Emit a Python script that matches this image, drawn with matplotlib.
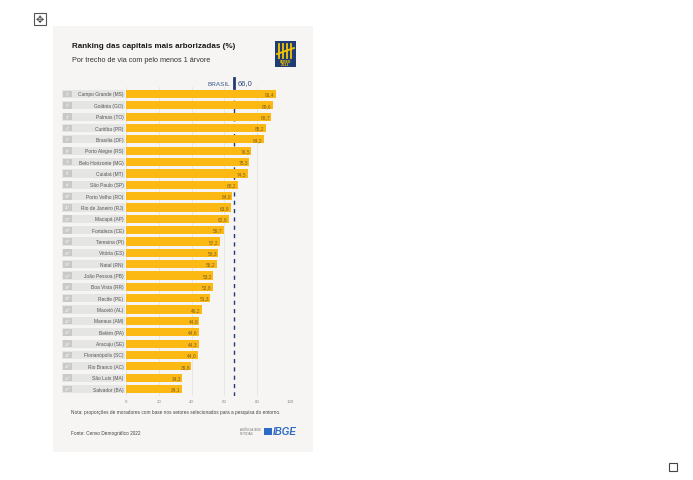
import matplotlib
matplotlib.use("Agg")
import matplotlib.pyplot as plt
from matplotlib.patches import Rectangle

cities = ["Campo Grande (MS)", "Goiânia (GO)", "Palmas (TO)", "Curitiba (PR)", "Brasília (DF)",
          "Porto Alegre (RS)", "Belo Horizonte (MG)", "Cuiabá (MT)", "São Paulo (SP)",
          "Porto Velho (RO)", "Rio de Janeiro (RJ)", "Macapá (AP)", "Fortaleza (CE)",
          "Teresina (PI)", "Vitória (ES)", "Natal (RN)", "João Pessoa (PB)", "Boa Vista (RR)",
          "Recife (PE)", "Maceió (AL)", "Manaus (AM)", "Belém (PA)", "Aracaju (SE)",
          "Florianópolis (SC)", "Rio Branco (AC)", "São Luís (MA)", "Salvador (BA)"]
values = [91.4, 89.6, 88.7, 85.2, 84.2, 76.5, 75.3, 74.5, 68.2, 64.9, 63.9, 62.8, 59.7,
          57.2, 56.3, 55.2, 53.2, 52.8, 51.3, 46.2, 44.8, 44.6, 44.3, 44.0, 39.8, 34.3, 34.1]
brasil = 66.0
xticks = [0, 20, 40, 60, 80, 100]

W, H = 693, 481
fig = plt.figure(figsize=(W / 100, H / 100), dpi=100)
fig.patch.set_facecolor("white")

def fx(px):
    return px / W

def fy(py):
    return 1 - py / H

narrow = ["Liberation Sans Narrow", "Liberation Sans", "DejaVu Sans"]

# card background
fig.patches.append(Rectangle((fx(53), fy(453)), fx(313) - fx(53), fy(27) - fy(453),
                             transform=fig.transFigure, facecolor="#f6f5f3",
                             edgecolor="none", zorder=-5))

# small icon top-left and bottom-right
fig.patches.append(Rectangle((fx(34), fy(26)), fx(12), 12 / H, transform=fig.transFigure,
                             facecolor="white", edgecolor="#555555", lw=0.8, zorder=1))
fig.text(fx(40), fy(20), "✥", ha="center", va="center", fontsize=7, color="#444444")
fig.patches.append(Rectangle((fx(669), fy(472)), fx(8), 8 / H, transform=fig.transFigure,
                             facecolor="white", edgecolor="#444444", lw=0.8, zorder=1))

# titles
fig.text(fx(72), fy(47), "Ranking das capitais mais arborizadas (%)", fontsize=5.8,
         fontweight="bold", family=narrow, color="#1a1a1a", va="center", ha="left")
fig.text(fx(72), fy(60), "Por trecho de via com pelo menos 1 árvore", fontsize=5.2,
         family=narrow, color="#333333", va="center", ha="left")

# logo
fig.patches.append(Rectangle((fx(275), fy(68)), fx(21), 26 / H, transform=fig.transFigure,
                             facecolor="#1f3d73", edgecolor="none", zorder=2))
for k in range(4):
    xx = 278.5 + k * 4.2
    fig.lines.append(plt.Line2D([fx(xx), fx(xx)], [fy(59), fy(45)], transform=fig.transFigure,
                                color="#f5c400", lw=1.3, zorder=3))
fig.lines.append(plt.Line2D([fx(277), fx(294)], [fy(55), fy(49)], transform=fig.transFigure,
                            color="#f5c400", lw=1.3, zorder=3))
fig.text(fx(285.5), fy(63.5), "CENSO\n2022", fontsize=2.2, color="#f5c400", ha="center",
         va="center", fontweight="bold", linespacing=0.9, zorder=4)

# main axes
n = len(cities)
top_px = 95 - 0.6 * 11.35
bot_px = 390 + 0.6 * 11.35
xmin = -39
left_px = 62
right_px = 290
ax = fig.add_axes([fx(left_px), fy(bot_px), fx(right_px) - fx(left_px), (bot_px - top_px) / H],
                  zorder=2)
ax.set_facecolor("none")
ax.set_xlim(xmin, 100)
ax.set_ylim(n - 1 + 0.6, -0.6)
for s in ax.spines.values():
    s.set_visible(False)
ax.set_yticks([])
ax.set_xticks(xticks)
ax.set_xticklabels([str(t) for t in xticks], fontsize=3.2, color="#8a8a8a", family=narrow)
ax.tick_params(axis="x", length=0, pad=2)
for t in xticks:
    ax.axvline(t, color="#e6e6e4", lw=0.7, zorder=0)

ys = list(range(n))
ax.barh(ys, values, height=0.72, color="#fcb813", zorder=2)

for i, (c, v) in enumerate(zip(cities, values)):
    ax.add_patch(Rectangle((xmin, i - 0.36), -xmin - 0.6, 0.72, facecolor="#e5e5e3",
                           edgecolor="none", zorder=2))
    ax.add_patch(Rectangle((xmin + 0.8, i - 0.3), 5.0, 0.6, facecolor="#c9c9c7",
                           edgecolor="none", zorder=3))
    ax.text(xmin + 3.3, i, f"{i + 1}º", fontsize=2.6, color="white", ha="center",
            va="center", zorder=4, family=narrow)
    ax.text(-1.5, i, c, fontsize=3.5, color="#555555", ha="right", va="center",
            zorder=4, family=narrow)
    ax.text(v - 0.8, i, f"{v:.1f}".replace(".", ","), fontsize=3.5, color="#7a6226",
            ha="right", va="center", zorder=4, family=narrow)

ax.axvline(brasil, color="#1f3d73", lw=1.0, ls=(0, (3, 3)), zorder=1.5)

# BRASIL marker above
fig.lines.append(plt.Line2D([fx(234.2), fx(234.2)], [fy(79), fy(89)], transform=fig.transFigure,
                            color="#1f3d73", lw=2.0))
fig.text(fx(230.5), fy(84), "BRASIL", fontsize=4.6, color="#3a5a8c", ha="right", va="center",
         family=narrow)
fig.text(fx(238), fy(84), f"{brasil:.1f}".replace(".", ","), fontsize=5.4, color="#2a4a80",
         ha="left", va="center", family=narrow)

# notes
fig.text(fx(71), fy(413), "Nota: proporções de moradores com base nos setores selecionados para a pesquisa do entorno.",
         fontsize=3.4, color="#444444", ha="left", va="center", family=narrow)
fig.text(fx(71), fy(434), "Fonte: Censo Demográfico 2022", fontsize=3.4, color="#444444",
         ha="left", va="center", family=narrow)

# logos bottom right
fig.text(fx(240), fy(432), "AGÊNCIA IBGE\nNOTÍCIAS", fontsize=2.2, color="#777777", ha="left",
         va="center", family=narrow, linespacing=0.9)
fig.patches.append(Rectangle((fx(264), fy(436)), fx(8), 7 / H, transform=fig.transFigure,
                             facecolor="#2e6bc4", edgecolor="none"))
fig.text(fx(273), fy(432.5), "IBGE", fontsize=7, color="#2e6bc4", ha="left", va="center",
         fontweight="bold", style="italic", family=["Liberation Sans", "DejaVu Sans"])

fig.savefig("out.png", dpi=100, facecolor="white")
